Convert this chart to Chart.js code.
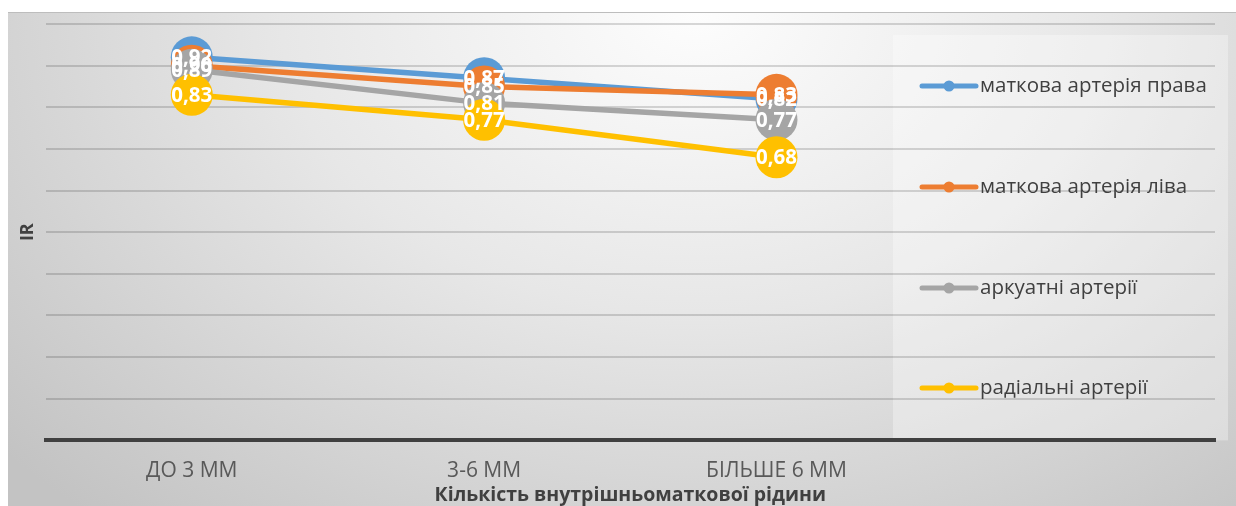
<!DOCTYPE html>
<html lang="uk">
<head>
<meta charset="UTF-8">
<title>IR</title>
<script src="https://cdn.jsdelivr.net/npm/chart.js"></script>
<style>
  html, body { margin: 0; padding: 0; background: #ffffff; }
  .frame {
    position: absolute; left: 8px; top: 12px; width: 1228px; height: 494px;
    border-top: 1px solid #bdbdbd;
    box-sizing: border-box;
    background: radial-gradient(ellipse 75% 135% at 56% 0%, #fdfdfd 0%, #e7e7e7 45%, #c3c3c3 100%);
  }
  .wrap { position: absolute; left: 0; top: 0; width: 1236px; height: 506px; }
</style>
</head>
<body>
<div class="frame"></div>
<div class="wrap"><canvas id="chart"></canvas></div>
<script>
// categories (last one is empty, the legend sits over it)
const categories = ['ДО 3 ММ', '3-6 ММ', 'БІЛЬШЕ 6 ММ', ''];

const seriesNames = ['маткова артерія права', 'маткова артерія ліва', 'аркуатні артерії', 'радіальні артерії'];
const rightUterine = [0.92, 0.87, 0.82, null];
const leftUterine = [0.90, 0.85, 0.83, null];
const arcuate = [0.89, 0.81, 0.77, null];
const radial = [0.83, 0.77, 0.68, null];
const colors = ['#5B9BD5', '#ED7D31', '#A5A5A5', '#FFC000'];

const yMin = 0, yMax = 1, yStep = 0.1;
const xTitle = 'Кількість внутрішньоматкової рідини';
const yTitle = 'IR';

const FONT = "'Open Sans', 'DejaVu Sans', sans-serif";

// legend panel + data labels, drawn by hand so the legend can sit over the plot
const overlay = {
  id: 'overlay',
  beforeDraw(chart) {
    const ctx = chart.ctx;
    const a = chart.chartArea;
    ctx.save();
    ctx.fillStyle = 'rgba(255,255,255,0.32)';
    ctx.fillRect(893, 35, 1228 - 893, a.bottom - 35);
    ctx.restore();
  },
  afterDatasetsDraw(chart) {
    const ctx = chart.ctx;
    ctx.save();
    ctx.font = 'bold 20.5px ' + FONT;
    ctx.fillStyle = '#ffffff';
    ctx.textAlign = 'center';
    ctx.textBaseline = 'middle';
    chart.data.datasets.forEach((ds, i) => {
      const meta = chart.getDatasetMeta(i);
      meta.data.forEach((pt, j) => {
        const v = ds.data[j];
        if (v == null) return;
        ctx.fillText(v.toFixed(2).replace('.', ','), pt.x, pt.y + 1);
      });
    });
    ctx.restore();
  },
  afterDraw(chart) {
    const ctx = chart.ctx;
    const rows = [86, 187, 288, 388];
    ctx.save();
    chart.data.datasets.forEach((ds, i) => {
      const y = rows[i];
      ctx.strokeStyle = ds.borderColor;
      ctx.lineWidth = 5;
      ctx.lineCap = 'round';
      ctx.beginPath();
      ctx.moveTo(922, y);
      ctx.lineTo(976, y);
      ctx.stroke();
      ctx.fillStyle = ds.borderColor;
      ctx.beginPath();
      ctx.arc(949, y, 5.5, 0, Math.PI * 2);
      ctx.fill();
      ctx.fillStyle = '#404040';
      ctx.font = '20.5px ' + FONT;
      ctx.textAlign = 'left';
      ctx.textBaseline = 'middle';
      ctx.fillText(ds.label, 980, y);
    });
    ctx.restore();
  }
};

const values = [rightUterine, leftUterine, arcuate, radial];

new Chart(document.getElementById('chart'), {
  type: 'line',
  data: {
    labels: categories,
    datasets: values.map((d, i) => ({
      label: seriesNames[i],
      data: d,
      borderColor: colors[i],
      backgroundColor: colors[i],
      borderWidth: 5.5,
      pointRadius: 21,
      pointHoverRadius: 21,
      pointBorderWidth: 0,
      order: values.length - i
    }))
  },
  options: {
    responsive: true,
    maintainAspectRatio: false,
    animation: false,
    layout: { padding: { left: 12, right: 18, top: 24, bottom: 0 } },
    plugins: {
      legend: { display: false },
      tooltip: { enabled: false }
    },
    scales: {
      x: {
        offset: true,
        grid: { display: false, drawTicks: false },
        border: { display: true, color: '#404040', width: 4 },
        ticks: {
          color: '#595959',
          font: { family: FONT, size: 21 },
          padding: 18,
          maxRotation: 0,
          autoSkip: false
        },
        title: {
          display: true,
          text: xTitle,
          color: '#404040',
          font: { family: FONT, size: 19.5, weight: 'bold' },
          padding: { top: -18, bottom: -1 }
        }
      },
      y: {
        min: yMin,
        max: yMax,
        ticks: { display: false, stepSize: yStep },
        grid: { color: 'rgba(0,0,0,0.15)', lineWidth: 2, drawTicks: false },
        border: { display: false },
        title: {
          display: true,
          text: yTitle,
          color: '#404040',
          font: { family: FONT, size: 18, weight: 'bold' },
          padding: { top: 5, bottom: 7 }
        }
      }
    }
  },
  plugins: [overlay]
});
</script>
</body>
</html>
